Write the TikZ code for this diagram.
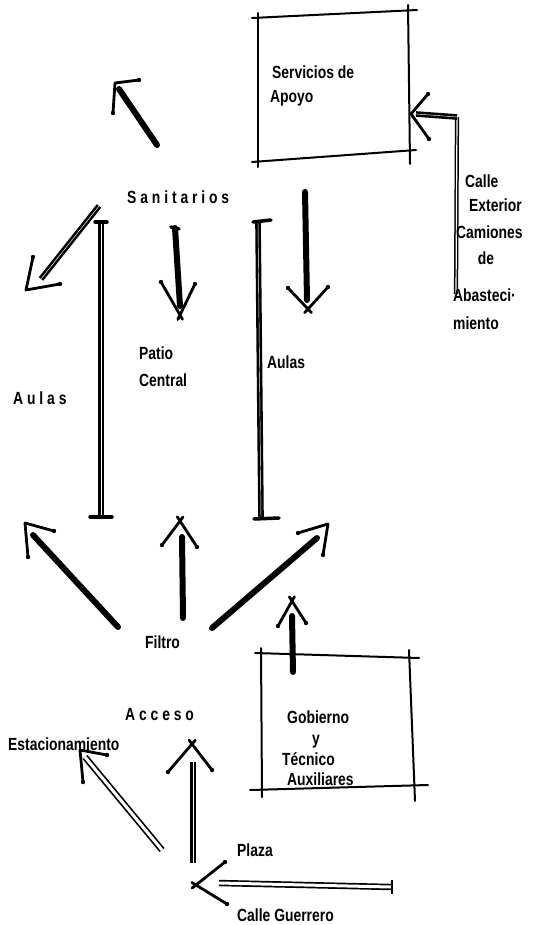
\documentclass[tikz,border=0pt]{standalone}
\usepackage{fontspec}
\setmainfont{Liberation Sans}
\newfontfamily\skfont[FakeStretch=0.79]{Liberation Sans}
\usetikzlibrary{calc}
\tikzset{
  lbl/.style={font=\skfont\bfseries\fontsize{17.6}{19}\selectfont, inner sep=0pt, anchor=west},
  shaft/.style={line width=6pt, line cap=round},
  wall/.style={double, line width=2.6pt, double distance=0.45pt},
  hollow/.style={double, line width=1.7pt, double distance=3pt},
  thinhollow/.style={double, line width=1.5pt, double distance=1.2pt},
  head/.style={line width=2.8pt, line cap=round, line join=round},
  edgeline/.style={line width=2pt, line cap=round},
  tcap/.style={line width=3.5pt, line cap=round},
}
\newcommand\vhead[3]{%
  \draw[head] (#2) -- (#1) -- (#3);
  \fill (#2) circle[radius=2.2] (#3) circle[radius=2.2];}
\newcommand\xhead[3]{%
  \draw[head] (#2) -- ($(#1)!-5pt!(#2)$);
  \draw[head] (#3) -- ($(#1)!-5pt!(#3)$);
  \fill (#2) circle[radius=2.2] (#3) circle[radius=2.2];}
\begin{document}
\begin{tikzpicture}[x=1pt,y=-1pt]
\useasboundingbox (0,0) rectangle (534,925);

% ---------- Servicios de Apoyo box ----------
\coordinate (sa1) at (252,18);  \coordinate (sa2) at (417,10);
\coordinate (sa3) at (258,13);  \coordinate (sa4) at (258,167);
\coordinate (sa5) at (408,5);   \coordinate (sa6) at (410,164);
\coordinate (sa7) at (252,162); \coordinate (sa8) at (416,150);
\draw[edgeline] (sa1) -- (sa2);
\draw[edgeline] (sa3) -- (sa4);
\draw[edgeline] (sa5) -- (sa6);
\draw[edgeline] (sa7) -- (sa8);
\node[lbl] (serv) at (272,72) {Servicios de};
\node[lbl] (apoyo) at (270,98) {Apoyo};

% supply street arrow
\coordinate (ce0) at (456,294);
\coordinate (ce1) at (457,117);
\coordinate (ce2) at (416,114);
\coordinate (ceT) at (411,114);
\draw[thinhollow] (ce0) -- (ce1);
\draw[wall] (ce1) -- (ce2);
\vhead{ceT}{428,94}{429,139}
\node[lbl] (calle1) at (465,181) {Calle};
\node[lbl] (exter) at (469,205) {Exterior};
\node[lbl] (camion) at (456,232) {Camiones};
\node[lbl, anchor=center] (de) at (486,258) {de};
\node[lbl] (abast) at (453,295) {Abasteci·};
\node[lbl] (mient) at (453,323) {miento};

% ---------- Sanitarios ----------
\node[lbl] (sanit) at (127,197) {S a n i t a r i o s};

% up-left arrow
\coordinate (ul0) at (157,145); \coordinate (ul1) at (119,89);
\draw[shaft] (ul0) -- (ul1);
\vhead{115,83}{139,80}{113,113}

% down-left arrow
\coordinate (dl0) at (99,206); \coordinate (dl1) at (41,279);
\draw[wall] (dl0) -- (dl1);
\vhead{26,290}{33,257}{60,284}

% middle down arrow
\coordinate (md0) at (175,228); \coordinate (md1) at (180,306);
\draw[shaft] (md0) -- (md1);
\draw[tcap] (171,227) -- (179,229);
\xhead{180,315}{161,282}{195,284}

% right down arrow
\coordinate (rd0) at (305,192); \coordinate (rd1) at (307,300);
\draw[shaft] (rd0) -- (rd1);
\xhead{308,309}{288,288}{328,287}

% ---------- walls ----------
\coordinate (lw0) at (101,222); \coordinate (lw1) at (101,517);
\draw[wall] (lw0) -- (lw1);
\draw[tcap] (95,222) -- (107,222);
\draw[tcap] (90,517) -- (112,517);

\coordinate (rw0) at (258,222); \coordinate (rw1) at (261,518);
\draw[wall] (rw0) -- (rw1);
\draw[tcap] (253,222) -- (271,220);
\draw[tcap] (254,519) -- (279,518);

\node[lbl] (patio) at (139,353) {Patio};
\node[lbl] (central) at (139,380) {Central};
\node[lbl] (aulasR) at (267,362) {Aulas};
\node[lbl] (aulasL) at (13,398) {A u l a s};

% ---------- Filtro arrows ----------
\node[lbl] (filtro) at (145,642) {Filtro};
\coordinate (fl0) at (118,627); \coordinate (fl1) at (33,535);
\draw[shaft] (fl0) -- (fl1);
\vhead{25,523}{54,531}{28,557}

\coordinate (fm0) at (183,618); \coordinate (fm1) at (182,537);
\draw[shaft] (fm0) -- (fm1);
\xhead{180,521}{162,545}{197,547}

\coordinate (fr0) at (212,628); \coordinate (fr1) at (317,538);
\draw[shaft] (fr0) -- (fr1);
\vhead{328,524}{298,533}{323,555}

% ---------- Gobierno box ----------
\coordinate (go1) at (255,653); \coordinate (go2) at (419,658);
\coordinate (go3) at (261,648); \coordinate (go4) at (262,797);
\coordinate (go5) at (409,650); \coordinate (go6) at (415,801);
\coordinate (go7) at (250,790); \coordinate (go8) at (428,785);
\draw[edgeline] (go1) -- (go2);
\draw[edgeline] (go3) -- (go4);
\draw[edgeline] (go5) -- (go6);
\draw[edgeline] (go7) -- (go8);
\node[lbl] (gob) at (287,717) {Gobierno};
\node[lbl, anchor=center] (yy) at (316,742) {y};
\node[lbl] (tec) at (282,759) {Técnico};
\node[lbl] (aux) at (287,779) {Auxiliares};

\coordinate (gu0) at (293,672); \coordinate (gu1) at (292,616);
\draw[shaft] (gu0) -- (gu1);
\xhead{292,601}{278,626}{306,623}

% ---------- Acceso ----------
\node[lbl] (acceso) at (125,715) {A c c e s o};
\coordinate (ac0) at (193,863); \coordinate (ac1) at (193,762);
\draw[wall] (ac0) -- (ac1);
\xhead{192,744}{168,772}{212,770}

\node[lbl] (estac) at (8,744) {Estacionamiento};
\coordinate (es0) at (162,850); \coordinate (es1) at (85,757);
\draw[hollow] (es0) -- (es1);
\vhead{80,750}{107,755}{83,782}

\node[lbl] (plaza) at (237,850) {Plaza};
\node[lbl] (cguer) at (237,915) {Calle Guerrero};
\coordinate (cg0) at (391,887); \coordinate (cg1) at (219,883);
\draw[hollow] (cg0) -- (cg1);
\draw[line width=2pt] (392,880) -- (392,894);
\xhead{196,885}{225,862}{227,904}

\end{tikzpicture}
\end{document}
